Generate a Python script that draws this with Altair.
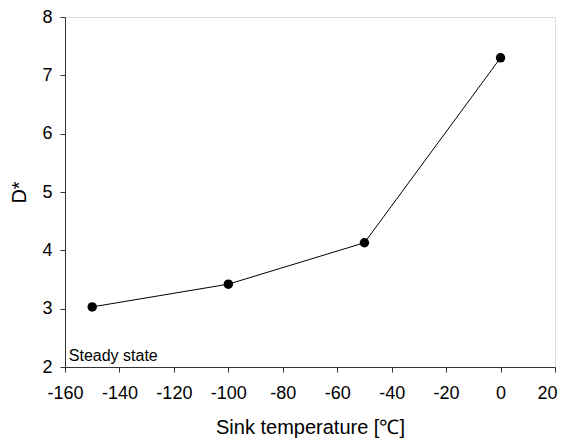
import altair as alt
import pandas as pd

temps = [-150, -100, -50, 0]
dstar = [3.03, 3.42, 4.13, 7.30]

x_ticks = [-160, -140, -120, -100, -80, -60, -40, -20, 0, 20]
y_ticks = [2, 3, 4, 5, 6, 7, 8]

note_text = ["Steady state"]
note_x = [-158.6]
note_y = [2.11]

df = pd.DataFrame({"T": temps, "D": dstar})
note = pd.DataFrame({"t": note_text, "x": note_x, "y": note_y})

FONT = "Liberation Sans"

xs = alt.Scale(domain=[-160, 20], nice=False, zero=False)
ys = alt.Scale(domain=[2, 8], nice=False, zero=False)

common = dict(grid=False, tickSize=5, labelFontSize=18, titleFontSize=20,
              labelColor="black", titleColor="black", domainColor="#333",
              tickColor="#333", labelFont=FONT, titleFont=FONT,
              titleFontWeight="normal", labelOverlap=False, labelFlush=False,
              labelExpr="datum.value + ''")

last_x = x_ticks[-1]
xax = alt.Axis(values=x_ticks, title="Sink temperature [℃]",
               labelPadding=12, titlePadding=15,
               labelAlign=alt.condition(f"datum.value == {last_x}", alt.value("right"), alt.value("center")),
               labelOffset=alt.condition(f"datum.value == {last_x}", alt.value(2), alt.value(0)),
               **common)
yax = alt.Axis(values=y_ticks, title="D*", labelPadding=8,
               titleX=-40, titleBaseline="alphabetic", titleAngle=270, **common)

base = alt.Chart(df)
line = base.mark_line(color="black", strokeWidth=1).encode(
    x=alt.X("T:Q", scale=xs, axis=xax),
    y=alt.Y("D:Q", scale=ys, axis=yax),
)
pts = base.mark_point(filled=True, color="black", size=90, opacity=1).encode(
    x=alt.X("T:Q", scale=xs),
    y=alt.Y("D:Q", scale=ys),
)
txt = alt.Chart(note).mark_text(align="left", baseline="alphabetic", fontSize=16,
                                font=FONT, color="black").encode(
    x=alt.X("x:Q", scale=xs),
    y=alt.Y("y:Q", scale=ys),
    text="t:N",
)

chart = (line + pts + txt).properties(
    width=490, height=350,
    autosize=alt.AutoSizeParams(type="none"),
    padding={"left": 57, "top": 9, "right": 3, "bottom": 74},
).configure_view(stroke="#333", strokeWidth=1).configure(background="white")

chart.save("out.html", embed_options={"renderer": "svg", "actions": False})
